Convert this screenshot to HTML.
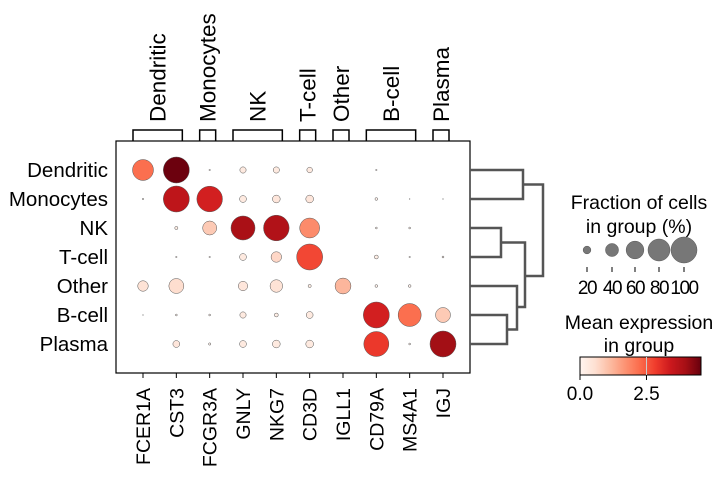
<!DOCTYPE html>
<html><head><meta charset="utf-8"><style>
body{margin:0;background:#fff}
svg{display:block;font-family:"Liberation Sans",Arial,sans-serif}
</style></head><body>
<svg id="chart" width="727" height="480" viewBox="0 0 727 480">
<g id="g"></g>
</svg>
<script>
const genes=["FCER1A","CST3","FCGR3A","GNLY","NKG7","CD3D","IGLL1","CD79A","MS4A1","IGJ"];
const groups=["Dendritic","Monocytes","NK","T-cell","Other","B-cell","Plasma"];
const fracRows=[
[75,100,2,15,15,13,0,2,0,0],
[2,100,98,17,20,20,0,5,1,1],
[0,6,44,90,98,70,0,3,3,0],
[0,2,2,17,30,100,0,8,2,3],
[30,48,0,26,38,6,52,5,5,0],
[1,3,3,15,8,17,0,100,85,48],
[0,17,4,17,20,20,0,95,3,100]];
const exprRows=[
[2.2,4.5,0.1,0.3,0.3,0.3,0,0.1,0,0],
[0.1,3.6,3.3,0.3,0.4,0.4,0,0.1,0.1,0.1],
[0,0.2,0.9,3.9,3.8,1.8,0,0.1,0.1,0],
[0,0.1,0.1,0.3,0.7,2.7,0,0.2,0.1,0.1],
[0.5,0.6,0,0.4,0.5,0.2,1.2,0.1,0.1,0],
[0.1,0.1,0.1,0.3,0.2,0.3,0,3.3,2.2,0.9],
[0,0.4,0.1,0.3,0.3,0.3,0,2.9,0.1,4.0]];
const brackets=[["Dendritic",0,1],["Monocytes",2,2],["NK",3,4],["T-cell",5,5],["Other",6,6],["B-cell",7,8],["Plasma",9,9]];
const legendFracs=[20,40,60,80,100];
const vmax=4.55;
const NS="http://www.w3.org/2000/svg";
const g=document.getElementById('g');
function mk(t,a,p){const e=document.createElementNS(NS,t);for(const k in a)e.setAttribute(k,a[k]);(p||g).appendChild(e);return e;}
const X0=116,X1=470,Y0=141,Y1=373;
const xs=i=>X0+27+i*(X1-X0-54)/(genes.length-1);
const ys=j=>Y0+29+j*(Y1-Y0-58)/(groups.length-1);
const rad=f=>13*Math.pow(f/100,0.75);
const stops=["#fff5f0","#fee0d2","#fcbba1","#fc9272","#fb6a4a","#ef3b2c","#cb181d","#a50f15","#67000d"];
function hx(c){return [1,3,5].map(i=>parseInt(c.substr(i,2),16));}
function cmap(v){let t=Math.max(0,Math.min(1,v/vmax))*8;let i=Math.min(7,Math.floor(t));let f=t-i;const a=hx(stops[i]),b=hx(stops[i+1]);return "rgb("+a.map((x,k)=>Math.round(x+(b[k]-x)*f)).join(",")+")";}
let e=mk('rect',{x:X0,y:Y0,width:X1-X0,height:Y1-Y0,fill:'none',stroke:'#000','stroke-width':1.2});

groups.forEach((gr,j)=>{genes.forEach((gn,i)=>{const f=fracRows[j][i];if(f<=0)return;
 const c=mk('circle',{cx:xs(i),cy:ys(j),r:rad(f),fill:cmap(exprRows[j][i]),stroke:'#555','stroke-width':0.5});
 
 });
 const t=mk('text',{x:X0-8,y:ys(j)+7,'text-anchor':'end','font-size':20.5});t.textContent=gr;
 
 
});
genes.forEach((gn,i)=>{mk('line',{x1:xs(i),x2:xs(i),y1:Y1,y2:Y1+5,stroke:'#000'});
 const t=mk('text',{transform:`translate(${xs(i)+7},${Y1+15}) rotate(-90)`,'text-anchor':'end','font-size':19.5});t.textContent=gn;
 
 });
brackets.forEach(b=>{const a=xs(b[1])-10,c=xs(b[2])+6;
 const p=mk('path',{d:`M${a},${Y0} V130 H${c} V${Y0}`,fill:'none',stroke:'#000','stroke-width':1.5});
 
 
 const m=(a+c)/2;
 const t=mk('text',{transform:`translate(${m+8},122) rotate(-90)`,'font-size':22.5});t.textContent=b[0];
 
 });
const dy=ys;
const dpath=`M${X1},${dy(0)} H523 V${dy(1)} H${X1} M523,${(dy(0)+dy(1))/2} H543 V276 H525
M${X1},${dy(2)} H501 V${dy(3)} H${X1} M501,${(dy(2)+dy(3))/2} H525 V307 H517
M${X1},${dy(4)} H517 V${(dy(5)+dy(6))/2} H507 M${X1},${dy(5)} H507 V${dy(6)} H${X1}`;
e=mk('path',{d:dpath,fill:'none',stroke:'#555','stroke-width':2.5});

let t=mk('text',{x:639,y:209,'text-anchor':'middle','font-size':19.5});t.textContent='Fraction of cells';

t=mk('text',{x:639,y:233,'text-anchor':'middle','font-size':19.5});t.textContent='in group (%)';

const lx=[587,612,635,659,684];
legendFracs.forEach((f,k)=>{const c=mk('circle',{cx:lx[k],cy:250,r:rad(f),fill:'#777',stroke:'#555','stroke-width':0.5});
 
 mk('line',{x1:lx[k],x2:lx[k],y1:267,y2:272,stroke:'#000'});
 const tt=mk('text',{x:lx[k],y:294,'text-anchor':'middle','font-size':19,'letter-spacing':-1.5});tt.textContent=f;
 });
t=mk('text',{x:639,y:329,'text-anchor':'middle','font-size':19.5});t.textContent='Mean expression';

t=mk('text',{x:639,y:352,'text-anchor':'middle','font-size':19.5});t.textContent='in group';

const defs=mk('defs',{});const lg=mk('linearGradient',{id:'rg'},defs);
stops.forEach((s,k)=>mk('stop',{offset:(k/8*100)+'%','stop-color':s},lg));
e=mk('rect',{x:580,y:357,width:121,height:18,fill:'url(#rg)',stroke:'#000','stroke-width':1});

const cx=v=>580+121*v/vmax;
mk('line',{x1:cx(2.5),x2:cx(2.5),y1:357,y2:375,stroke:'#ccc','stroke-width':1});
[0,2.5].forEach(v=>{mk('line',{x1:cx(v),x2:cx(v),y1:375,y2:380,stroke:'#000'});
 const tt=mk('text',{x:cx(v),y:400,'text-anchor':'middle','font-size':19});tt.textContent=v.toFixed(1);
 });
</script>
</body></html>
